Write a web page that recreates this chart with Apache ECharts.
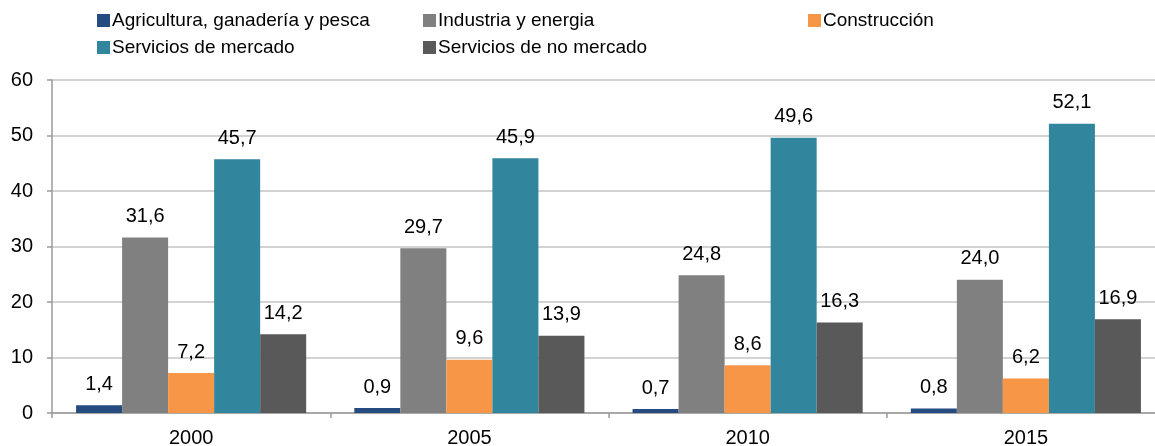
<!DOCTYPE html>
<html>
<head>
<meta charset="utf-8">
<script src="https://cdn.jsdelivr.net/npm/echarts@6/dist/echarts.min.js"></script>
<style>
  html, body { margin: 0; padding: 0; background: #fff; }
  #chart { width: 1155px; height: 446px; }
</style>
</head>
<body>
<div id="chart"></div>
<script>
// Years on the category axis
const years = ['2000', '2005', '2010', '2015'];

// Share of each sector (%)
const agricultura = [1.4, 0.9, 0.7, 0.8];
const industria = [31.6, 29.7, 24.8, 24.0];
const construccion = [7.2, 9.6, 8.6, 6.2];
const serviciosMercado = [45.7, 45.9, 49.6, 52.1];
const serviciosNoMercado = [14.2, 13.9, 16.3, 16.9];

const seriesNames = [
  'Agricultura, ganadería y pesca',
  'Industria y energia',
  'Construcción',
  'Servicios de mercado',
  'Servicios de no mercado'
];
const seriesData = [agricultura, industria, construccion, serviciosMercado, serviciosNoMercado];
const colors = ['#254b80', '#808080', '#f79646', '#31859c', '#595959'];

const font = 'Liberation Sans, Arial, sans-serif';

// legend entries placed in a two-row, three-column layout
const legendSpots = [
  { left: 97, top: 11 },
  { left: 423, top: 11 },
  { left: 808, top: 11 },
  { left: 97, top: 38 },
  { left: 423, top: 38 }
];

const chart = echarts.init(document.getElementById('chart'), null, { renderer: 'canvas' });

chart.setOption({
  animation: false,
  color: colors,
  legend: seriesNames.map((name, i) => ({
    data: [name],
    left: legendSpots[i].left,
    top: legendSpots[i].top,
    itemWidth: 13,
    itemHeight: 13,
    itemGap: 0,
    icon: 'rect',
    padding: 0,
    textStyle: { fontFamily: font, fontSize: 19, color: '#000', padding: [0, 0, 0, -3] }
  })),
  // the last group runs slightly past the right edge of the canvas
  grid: { left: 52, top: 80, width: 1113, height: 333, containLabel: false, outerBoundsMode: 'none' },
  xAxis: {
    type: 'category',
    data: years,
    axisLine: { lineStyle: { color: '#9a9a9a', width: 1.5 } },
    axisTick: { show: true, length: 5, lineStyle: { color: '#9a9a9a', width: 1.5 } },
    axisLabel: { fontFamily: font, fontSize: 20, color: '#000', margin: 15 }
  },
  yAxis: {
    type: 'value',
    min: 0,
    max: 60,
    interval: 10,
    axisLine: { show: true, lineStyle: { color: '#9a9a9a', width: 1.5 } },
    axisTick: { show: true, length: 5, lineStyle: { color: '#9a9a9a', width: 1.5 } },
    axisLabel: { fontFamily: font, fontSize: 20, color: '#000', margin: 19 },
    splitLine: { lineStyle: { color: '#c4c4c4', width: 1.5 } }
  },
  series: seriesNames.map((name, i) => ({
    name: name,
    type: 'bar',
    data: seriesData[i],
    barGap: '0%',
    barCategoryGap: '17.3%',
    itemStyle: { color: colors[i] },
    label: {
      show: true,
      position: 'top',
      distance: 11,
      fontFamily: font,
      fontSize: 20,
      color: '#000',
      formatter: p => p.value.toFixed(1).replace('.', ',')
    }
  }))
});
</script>
</body>
</html>
